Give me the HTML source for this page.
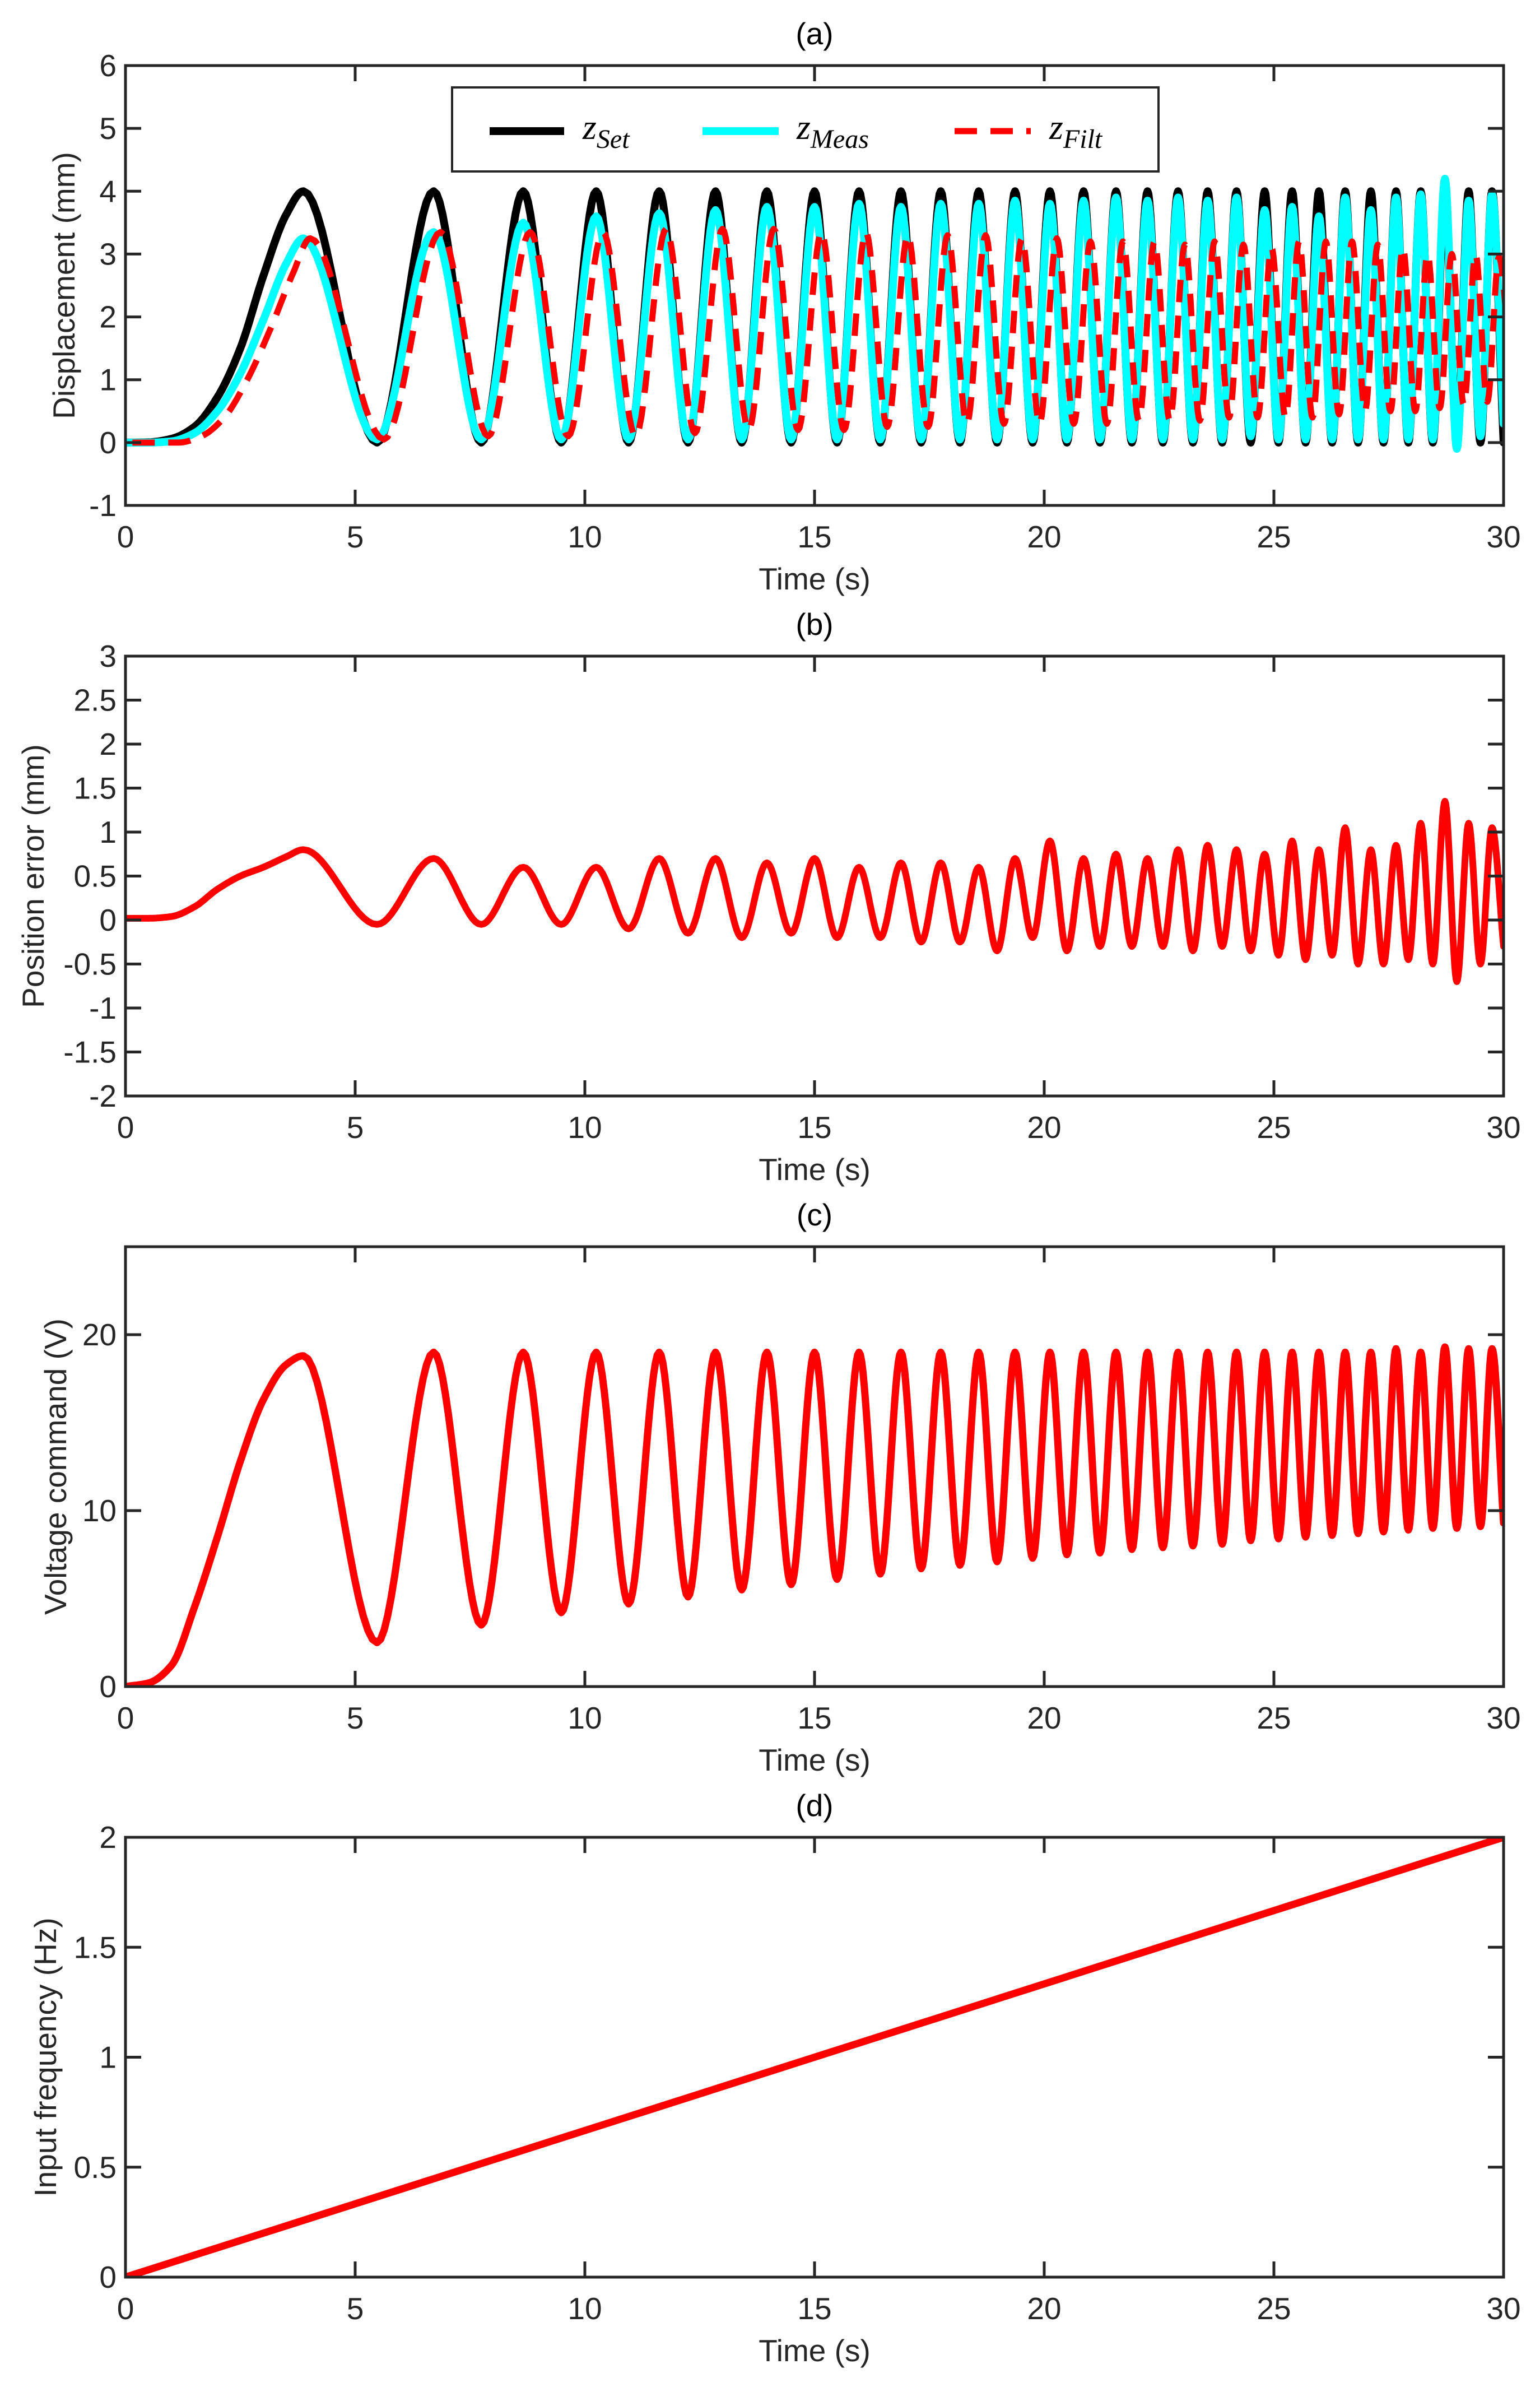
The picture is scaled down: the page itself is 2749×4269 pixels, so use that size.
<!DOCTYPE html>
<html><head><meta charset="utf-8"><style>
html,body{margin:0;padding:0;background:#fff;}
svg{display:block;}
</style></head><body>
<svg id="fig" xmlns="http://www.w3.org/2000/svg" width="2749" height="4269" viewBox="0 0 2749 4269"></svg>
<script>
// ---- data ----
const tPre = [0, 0.5, 1, 1.5, 2, 2.5, 3, 3.5];
const tExt = [3.873,5.477,6.708,7.746,8.660,9.487,10.247,10.954,11.619,12.247,12.845,13.416,13.964,14.491,15.000,15.492,15.969,16.432,16.882,17.321,17.748,18.166,18.574,18.974,19.365,19.748,20.125,20.494,20.857,21.213,21.564,21.909,22.249,22.583,22.913,23.238,23.558,23.875,24.187,24.495,24.799,25.100,25.397,25.690,25.981,26.268,26.552,26.833,27.111,27.386,27.659,27.928,28.196,28.460,28.723,28.983,29.240,29.496,29.749,30.000];
const filtLag = 0.15;

const setPre = [0, 0.005, 0.06, 0.25, 0.72, 1.5, 2.65, 3.63];
const setPeaks = Array(30).fill(4);
const setTroughs = Array(30).fill(0);

const measPre = [0, 0, 0.02, 0.15, 0.5, 1.1, 1.95, 2.85];
const measPeaks = [3.25,3.35,3.5,3.6,3.65,3.7,3.75,3.75,3.8,3.75,3.8,3.8,3.85,3.8,3.85,3.9,3.85,3.9,3.85,3.9,3.7,3.75,3.6,3.9,3.7,3.9,3.95,4.2,3.85,3.95];
const measTroughs = [0.05,0.05,0.05,0.05,0.05,0.05,0.05,0.05,0.05,0.05,0.05,0.05,0.05,0.05,0.05,0.05,0.05,0.05,0.05,0.1,0.05,0.05,0.05,0.05,0.05,0.05,0.05,-0.1,0.1,0.3];

const filtPre = [0, 0, 0, 0.1, 0.4, 1.0, 1.8, 2.7];
const filtPeaks = [3.25,3.35,3.35,3.35,3.4,3.4,3.4,3.35,3.35,3.3,3.3,3.3,3.25,3.25,3.2,3.2,3.2,3.15,3.2,3.15,3.1,3.2,3.2,3.2,3.15,3.1,3.0,3.0,3.0,2.95];
const filtTroughs = [0.05,0.1,0.1,0.1,0.15,0.2,0.2,0.2,0.25,0.25,0.3,0.3,0.3,0.3,0.3,0.35,0.35,0.35,0.4,0.4,0.4,0.4,0.45,0.5,0.5,0.5,0.55,0.6,0.65,1.2];

const errPre = [0.02, 0.02, 0.04, 0.15, 0.35, 0.5, 0.6, 0.72];
const errPeaks = [0.8,0.7,0.6,0.6,0.7,0.7,0.65,0.7,0.6,0.65,0.65,0.6,0.7,0.9,0.7,0.75,0.7,0.8,0.85,0.8,0.75,0.9,0.8,1.05,0.8,0.85,1.1,1.35,1.1,1.05];
const errTroughs = [-0.05,-0.05,-0.05,-0.1,-0.15,-0.2,-0.15,-0.2,-0.2,-0.25,-0.25,-0.35,-0.2,-0.35,-0.3,-0.3,-0.3,-0.35,-0.3,-0.35,-0.4,-0.45,-0.4,-0.5,-0.5,-0.45,-0.5,-0.7,-0.5,-0.3];

const voltPre = [0, 0.2, 1.2, 4.5, 8.5, 12.8, 16.3, 18.3];
const voltPeaks = [18.8,19.0,19.0,19.0,19.0,19.0,19.0,19.0,19.0,19.0,19.0,19.0,19.0,19.0,19.0,19.0,19.0,19.0,19.0,19.0,19.0,19.0,19.0,19.0,19.0,19.2,19.0,19.3,19.2,19.2];
const voltTroughs = [2.5,3.5,4.2,4.7,5.1,5.5,5.8,6.1,6.4,6.7,6.9,7.1,7.3,7.5,7.6,7.8,7.9,8.0,8.1,8.3,8.4,8.5,8.6,8.7,8.8,8.9,9.0,9.0,9.1,9.3];

const freqTimes = [0, 30];
const freqValues = [0, 2];

const xTicks = [0,5,10,15,20,25,30];
const yTicksA = [-1,0,1,2,3,4,5,6];
const yTicksB = [-2,-1.5,-1,-0.5,0,0.5,1,1.5,2,2.5,3];
const yTicksC = [0,10,20];
const yTicksD = [0,0.5,1,1.5,2];

// ---- helpers ----
const NS = 'http://www.w3.org/2000/svg';
const svg = document.getElementById('fig');
function mk(tag, attrs, parent){ const e=document.createElementNS(NS,tag); for(const k in attrs) e.setAttribute(k,attrs[k]); (parent||svg).appendChild(e); return e; }
function interleave(pre, peaks, troughs){ const v=pre.slice(); for(let i=0;i<peaks.length;i++){ v.push(peaks[i]); v.push(troughs[i]); } return v; }
const tAll = tPre.concat(tExt);

function monotone(xs, ys, n){
  const m=xs.length, d=[], s=[];
  for(let i=0;i<m-1;i++) d.push((ys[i+1]-ys[i])/(xs[i+1]-xs[i]));
  for(let i=0;i<m;i++){
    if(i===0) s.push(d[0]); else if(i===m-1) s.push(d[m-2]);
    else if(d[i-1]*d[i]<=0) s.push(0);
    else { const w1=2*(xs[i+1]-xs[i])+(xs[i]-xs[i-1]), w2=(xs[i+1]-xs[i])+2*(xs[i]-xs[i-1]); s.push((w1+w2)/(w1/d[i-1]+w2/d[i])); }
  }
  const out=[];
  for(let i=0;i<m-1;i++){
    const h=xs[i+1]-xs[i];
    for(let j=0;j<n;j++){
      const u=j/n, h00=2*u*u*u-3*u*u+1, h10=u*u*u-2*u*u+u, h01=-2*u*u*u+3*u*u, h11=u*u*u-u*u;
      out.push([xs[i]+u*h, h00*ys[i]+h10*h*s[i]+h01*ys[i+1]+h11*h*s[i+1]]);
    }
  }
  out.push([xs[m-1], ys[m-1]]);
  return out;
}

const L=224, R=2684, H=785;
const FONT='"Liberation Sans", Arial, sans-serif';
let clipId=0;

function panel(cfg){
  const top=cfg.top, bot=top+H;
  const g=mk('g',{});
  
  
  const xs=t=>L+(t-0)/30*(R-L);
  const ys=v=>bot-(v-cfg.ymin)/(cfg.ymax-cfg.ymin)*H;
  const cid='clip'+(clipId++);
  const cp=mk('clipPath',{id:cid},g); mk('rect',{x:L,y:top,width:R-L,height:H},cp);
  const sg=mk('g',{'clip-path':'url(#'+cid+')'},g);
  cfg.series.forEach(s=>{
    const pts=s.times.length>2?monotone(s.times,s.values,16):s.times.map((t,i)=>[t,s.values[i]]);
    const d='M'+pts.map(p=>xs(p[0]).toFixed(1)+','+ys(p[1]).toFixed(1)).join('L');
    const a={d:d,fill:'none',stroke:s.color,'stroke-width':s.width,'stroke-linejoin':'round','stroke-linecap':s.dash?'butt':'round'};
    if(s.dash) a['stroke-dasharray']=s.dash;
    const p=mk('path',a,sg);
    
    
  });
  const box=mk('rect',{x:L,y:top,width:R-L,height:H,fill:'none',stroke:'#262626','stroke-width':5},g);
  
  
  xTicks.forEach(t=>{
    const x=xs(t);
    mk('line',{x1:x,y1:bot,x2:x,y2:bot-28,stroke:'#262626','stroke-width':5},g);
    mk('line',{x1:x,y1:top,x2:x,y2:top+28,stroke:'#262626','stroke-width':5},g);
    const tx=mk('text',{x:x,y:bot+75,'text-anchor':'middle','font-family':FONT,'font-size':55,fill:'#262626'},g);
    tx.textContent=t;
    
    
  });
  cfg.yticks.forEach(v=>{
    const y=ys(v);
    mk('line',{x1:L,y1:y,x2:L+28,y2:y,stroke:'#262626','stroke-width':5},g);
    mk('line',{x1:R,y1:y,x2:R-28,y2:y,stroke:'#262626','stroke-width':5},g);
    const tx=mk('text',{x:L-16,y:y+19,'text-anchor':'end','font-family':FONT,'font-size':55,fill:'#262626'},g);
    tx.textContent=v;
    
    
  });
  const tt=mk('text',{x:(L+R)/2,y:top-38,'text-anchor':'middle','font-family':FONT,'font-size':55,fill:'#000'},g);
  tt.textContent=cfg.title;
  
  
  const xl=mk('text',{x:(L+R)/2,y:bot+150,'text-anchor':'middle','font-family':FONT,'font-size':55,fill:'#262626'},g);
  xl.textContent='Time (s)';
  
  
  const cy=top+H/2;
  const yl=mk('text',{x:cfg.ylx,y:cy,'text-anchor':'middle','font-family':FONT,'font-size':55,fill:'#262626',transform:'rotate(-90 '+cfg.ylx+' '+cy+')'},g);
  yl.textContent=cfg.ylabel;
  
  
  return g;
}

panel({name:'panel-a-displacement',top:117,ymin:-1,ymax:6,yticks:yTicksA,title:'(a)',ylabel:'Displacement (mm)',ylx:133,
  series:[
    {name:'z-set-line',times:tAll,values:interleave(setPre,setPeaks,setTroughs),color:'#000',width:14},
    {name:'z-meas-line',times:tAll,values:interleave(measPre,measPeaks,measTroughs),color:'#00ffff',width:14},
    {name:'z-filt-line',times:tAll.map(t=>t+filtLag),values:interleave(filtPre,filtPeaks,filtTroughs),color:'#ff0000',width:11,dash:'40 24'}
  ]});
panel({name:'panel-b-position-error',top:1171,ymin:-2,ymax:3,yticks:yTicksB,title:'(b)',ylabel:'Position error (mm)',ylx:78,
  series:[{name:'error-line',times:tAll,values:interleave(errPre,errPeaks,errTroughs),color:'#ff0000',width:12}]});
panel({name:'panel-c-voltage',top:2225,ymin:0,ymax:25,yticks:yTicksC,title:'(c)',ylabel:'Voltage command (V)',ylx:118,
  series:[{name:'voltage-line',times:tAll,values:interleave(voltPre,voltPeaks,voltTroughs),color:'#ff0000',width:13}]});
panel({name:'panel-d-frequency',top:3279,ymin:0,ymax:2,yticks:yTicksD,title:'(d)',ylabel:'Input frequency (Hz)',ylx:100,
  series:[{name:'frequency-line',times:freqTimes,values:freqValues,color:'#ff0000',width:13}]});

// legend
const lg=mk('g',{});


mk('rect',{x:807,y:156,width:1261,height:150,fill:'#fff',stroke:'#262626','stroke-width':4},lg);
const entries=[{x1:874,x2:1007,tx:1040,c:'#000',sub:'Set',dash:null,name:'legend-entry-set'},
               {x1:1254,x2:1390,tx:1422,c:'#00ffff',sub:'Meas',dash:null,name:'legend-entry-meas'},
               {x1:1704,x2:1840,tx:1873,c:'#ff0000',sub:'Filt',dash:'40 24',name:'legend-entry-filt'}];
entries.forEach(e=>{
  const eg=mk('g',{},lg);
  
  
  const a={x1:e.x1,y1:234,x2:e.x2,y2:234,stroke:e.c,'stroke-width':e.dash?11:14};
  if(e.dash) a['stroke-dasharray']=e.dash;
  mk('line',a,eg);
  const t=mk('text',{x:e.tx,y:248,'font-family':'"Liberation Serif", serif','font-style':'italic','font-size':64,fill:'#000'},eg);
  const s1=mk('tspan',{},t); s1.textContent='z';
  const s2=mk('tspan',{dy:16,'font-size':48},t); s2.textContent=e.sub;
});
</script>
</body></html>
